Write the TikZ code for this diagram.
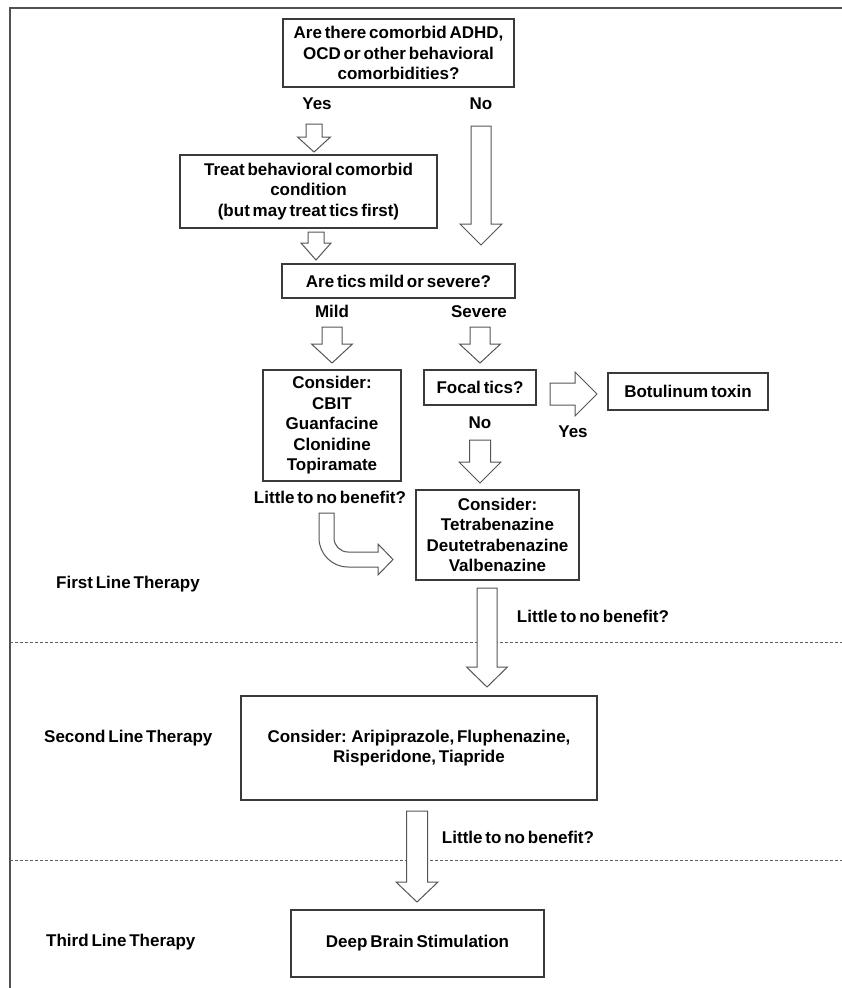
\documentclass[tikz,border=0pt]{standalone}
\usepackage{fontspec}
\setmainfont{Liberation Sans}[WordSpace=0.6]
\definecolor{boxc}{HTML}{3A3A3A}
\definecolor{arrc}{HTML}{555555}
\definecolor{sepc}{HTML}{606060}
\definecolor{framec}{HTML}{505050}
\newcommand{\dnarr}[6]{% cx, ytop, yhead, ytip, shaft half, head half
  \draw[blk] ({#1-#5},#2) -- ({#1+#5},#2) -- ({#1+#5},#3) -- ({#1+#6},#3) -- (#1,#4) -- ({#1-#6},#3) -- ({#1-#5},#3) -- cycle;}
\begin{document}
\begin{tikzpicture}[x=1pt,y=-1pt,
  every node/.style={font=\bfseries\fontsize{17}{20.5}\selectfont, inner sep=0pt},
  box/.style={draw=boxc, line width=1.2pt, align=center},
  lbl/.style={text height=12pt, text depth=0pt},
  blk/.style={draw=arrc, line width=1pt, fill=white, line join=miter},
  sepline/.style={draw=sepc, line width=1pt, dash pattern=on 3pt off 2pt},
  frameline/.style={draw=framec, line width=1.5pt}]
\useasboundingbox (0,0) rectangle (842,988);

% frame
\draw[frameline] (10,988) -- (10,8) -- (842,8);

% separators
\coordinate (s1l) at (10,642); \coordinate (s1r) at (842,642);
\coordinate (s2l) at (10,860); \coordinate (s2r) at (842,860);
\draw[sepline] (s1l) -- (s1r);
\draw[sepline] (s2l) -- (s2r);

% boxes
\node[box, minimum width=231pt, minimum height=68pt] (q1) at (398.5,53)
  {Are there comorbid ADHD,\\OCD or other behavioral\\comorbidities?};
\node[box, minimum width=257pt, minimum height=73pt] (treat) at (308.5,191.5)
  {Treat behavioral comorbid\\condition\\(but may treat tics first)};
\node[box, minimum width=233pt, minimum height=34pt] (tics) at (398.5,281)
  {Are tics mild or severe?};
\node[box, minimum width=138pt, minimum height=111pt] (cbit) at (332,425.5)
  {Consider:\\CBIT\\Guanfacine\\Clonidine\\Topiramate};
\node[box, minimum width=112pt, minimum height=35pt] (focal) at (480,387.5)
  {Focal tics?};
\node[box, minimum width=160pt, minimum height=37pt] (botox) at (688,391.5)
  {Botulinum toxin};
\node[box, minimum width=163pt, minimum height=90pt] (tetra) at (497.5,535)
  {Consider:\\Tetrabenazine\\Deutetrabenazine\\Valbenazine};
\node[box, minimum width=356pt, minimum height=104pt] (second) at (419,748)
  {Consider: Aripiprazole, Fluphenazine,\\Risperidone, Tiapride};
\node[box, minimum width=253pt, minimum height=67pt] (dbs) at (417.5,943.5)
  {Deep Brain Stimulation};

% labels
\node[lbl] (yes1) at (317,103) {Yes};
\node[lbl] (no1) at (481,103) {No};
\node[lbl] (mild) at (332,311) {Mild};
\node[lbl] (severe) at (479,311) {Severe};
\node[lbl] (no2) at (480,422) {No};
\node[lbl] (yes2) at (573,431) {Yes};
\node[lbl] (ltnb1) at (330,497) {Little to no benefit?};
\node[lbl] (ltnb2) at (593,616) {Little to no benefit?};
\node[lbl] (ltnb3) at (518,837) {Little to no benefit?};
\node[lbl, anchor=west] (first) at (56,582) {First Line Therapy};
\node[lbl, anchor=west] (secondl) at (44,736) {Second Line Therapy};
\node[lbl, anchor=west] (third) at (46,940) {Third Line Therapy};

% block arrows
\dnarr{314}{124}{137}{152}{8}{16.5}
\dnarr{316}{232}{243}{260}{8}{15}
\dnarr{481}{126}{224}{245}{10}{21}
\dnarr{332}{327}{344}{363}{10}{20.5}
\dnarr{480}{327}{344}{363}{10}{20.5}
\dnarr{480}{440}{462}{483}{10.5}{21}
\dnarr{487}{588}{667}{687}{10}{20.5}
\dnarr{417}{811}{882}{902}{10.5}{21}
% right arrow to botulinum
\draw[blk] (550,383) -- (575,383) -- (575,372) -- (597,394) -- (575,416) -- (575,405) -- (550,405) -- cycle;
% bent arrow
\draw[blk] (319,513) -- (334,513) -- (334,538) .. controls (334,545.7) and (340.3,552) .. (348,552)
  -- (378,552) -- (378,544) -- (393,559.5) -- (378,575) -- (378,567) -- (348,567)
  .. controls (332,567) and (319,554) .. (319,538) -- cycle;
\end{tikzpicture}
\end{document}
